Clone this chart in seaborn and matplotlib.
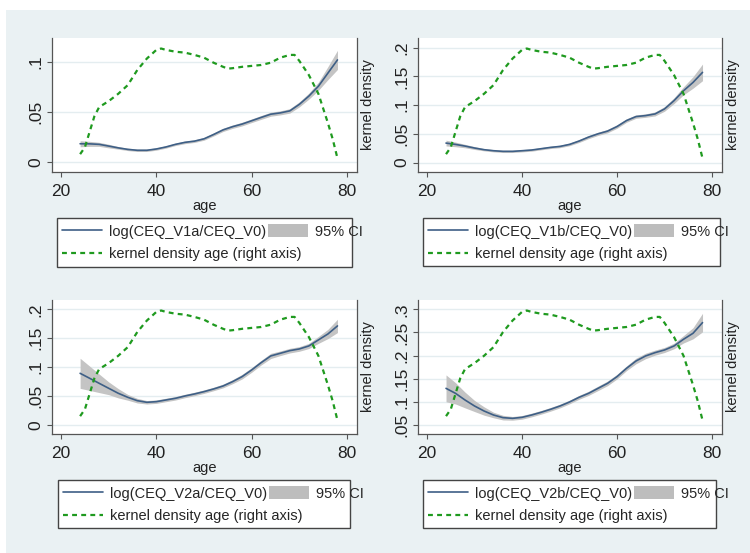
import matplotlib
matplotlib.use("Agg")
import matplotlib.pyplot as plt
import seaborn as sns
from matplotlib.lines import Line2D
from matplotlib.patches import Patch, Rectangle
from matplotlib.ticker import FuncFormatter

sns.set_style("ticks")
plt.rcParams['font.family'] = ['Liberation Sans', 'DejaVu Sans']

# smoothed log ratios by age
age = list(range(24, 80, 2))
v1a = [0.0186, 0.0185, 0.0180, 0.0163, 0.0145, 0.0130, 0.0121, 0.0121, 0.0134, 0.0154,
       0.0180, 0.0200, 0.0212, 0.0235, 0.0278, 0.0324, 0.0356, 0.0382, 0.0415, 0.0448,
       0.0480, 0.0493, 0.0513, 0.0578, 0.0660, 0.0758, 0.0889, 0.1020]
v1b = [0.0340, 0.0317, 0.0288, 0.0254, 0.0225, 0.0207, 0.0196, 0.0196, 0.0207, 0.0219,
       0.0242, 0.0265, 0.0282, 0.0317, 0.0375, 0.0444, 0.0501, 0.0548, 0.0628, 0.0732,
       0.0801, 0.0818, 0.0847, 0.0934, 0.1078, 0.1250, 0.1395, 0.1570]
v2a = [0.0893, 0.0807, 0.0720, 0.0634, 0.0548, 0.0478, 0.0420, 0.0392, 0.0403, 0.0432,
       0.0461, 0.0501, 0.0536, 0.0576, 0.0622, 0.0674, 0.0749, 0.0836, 0.0951, 0.1078,
       0.1193, 0.1239, 0.1285, 0.1314, 0.1366, 0.1470, 0.1573, 0.1712]
v2b = [0.1292, 0.1184, 0.1040, 0.0911, 0.0803, 0.0716, 0.0659, 0.0644, 0.0666, 0.0716,
       0.0774, 0.0839, 0.0911, 0.0997, 0.1098, 0.1184, 0.1292, 0.1400, 0.1545, 0.1725,
       0.1883, 0.1991, 0.2063, 0.2121, 0.2207, 0.2352, 0.2481, 0.2712]

# half width of the 95% CI
ci_v1a = [0.0030, 0.0025, 0.0020, 0.0018, 0.0013, 0.0012, 0.0012, 0.0012, 0.0012, 0.0012,
          0.0012, 0.0013, 0.0013, 0.0014, 0.0015, 0.0016, 0.0017, 0.0018, 0.0018, 0.0019,
          0.0020, 0.0020, 0.0022, 0.0025, 0.0030, 0.0040, 0.0065, 0.0095]
ci_v1b = [0.0050, 0.0040, 0.0030, 0.0025, 0.0020, 0.0020, 0.0020, 0.0020, 0.0020, 0.0020,
          0.0020, 0.0020, 0.0022, 0.0023, 0.0025, 0.0027, 0.0028, 0.0030, 0.0030, 0.0030,
          0.0030, 0.0030, 0.0035, 0.0040, 0.0050, 0.0070, 0.0100, 0.0145]
ci_v2a = [0.0260, 0.0210, 0.0160, 0.0110, 0.0080, 0.0050, 0.0040, 0.0030, 0.0030, 0.0030,
          0.0030, 0.0030, 0.0030, 0.0030, 0.0030, 0.0032, 0.0035, 0.0040, 0.0040, 0.0040,
          0.0045, 0.0040, 0.0040, 0.0040, 0.0045, 0.0060, 0.0080, 0.0115]
ci_v2b = [0.0290, 0.0230, 0.0170, 0.0120, 0.0090, 0.0060, 0.0050, 0.0040, 0.0040, 0.0040,
          0.0040, 0.0040, 0.0040, 0.0040, 0.0042, 0.0045, 0.0048, 0.0050, 0.0050, 0.0050,
          0.0060, 0.0060, 0.0055, 0.0055, 0.0060, 0.0080, 0.0120, 0.0200]

# kernel density of age (same in every panel)
dens_age = [24, 25, 27, 28, 30, 32, 34, 36, 38, 40, 41, 42, 44, 46, 48, 50, 52, 54, 55,
            56, 58, 60, 62, 64, 66, 68, 69, 70, 72, 74, 76, 77, 78]
dens = [0.0018, 0.0033, 0.0101, 0.0121, 0.0134, 0.0150, 0.0169, 0.0202, 0.0227, 0.0246,
        0.0249, 0.0246, 0.0242, 0.0240, 0.0235, 0.0229, 0.0218, 0.0209, 0.0205, 0.0206,
        0.0209, 0.0211, 0.0213, 0.0218, 0.0229, 0.0235, 0.0235, 0.0222, 0.0191, 0.0150,
        0.0086, 0.0051, 0.0009]

labels = ["log(CEQ_V1a/CEQ_V0)", "log(CEQ_V1b/CEQ_V0)",
          "log(CEQ_V2a/CEQ_V0)", "log(CEQ_V2b/CEQ_V0)"]
series = [v1a, v1b, v2a, v2b]
cis = [ci_v1a, ci_v1b, ci_v2a, ci_v2b]
yticks = [[0, 0.05, 0.1], [0, 0.05, 0.1, 0.15, 0.2],
          [0, 0.05, 0.1, 0.15, 0.2], [0.05, 0.1, 0.15, 0.2, 0.25, 0.3]]
ylims = [(-0.0095, 0.1238), (-0.0163, 0.2168), (-0.0156, 0.216), (0.0306, 0.32)]

bg = "#eaf1f3"
grid_c = "#e4edf0"
line_c = "#3e5f86"
band_c = "#c4c4c4"
green = "#1f9a1f"
axis_c = "#555555"

W, H = 750, 553
fig = plt.figure(figsize=(7.5, 5.53), dpi=100)
fig.patch.set_facecolor("white")
fig.add_artist(Rectangle((6 / W, 0), 1, 1 - 10 / H, transform=fig.transFigure,
                         facecolor=bg, edgecolor="none", zorder=-10))

# axes boxes in pixels: left, top, right, bottom ; legend boxes: left, top, right, bottom
ax_px = [(52, 38, 357, 172), (418, 38, 722, 172), (52, 300, 357, 434), (418, 300, 722, 434)]
leg_px = [(57, 218, 352, 267), (423, 218, 720, 266), (58, 480, 350, 528), (423, 480, 716, 528)]


def fmt(v, pos):
    if abs(v) < 1e-12:
        return "0"
    return f"{v:g}".lstrip("0")


for i in range(4):
    l, t, r, b = ax_px[i]
    ax = fig.add_axes([l / W, 1 - b / H, (r - l) / W, (b - t) / H])
    ax.set_facecolor("white")
    ax.set_axisbelow(True)

    lo = [m - c for m, c in zip(series[i], cis[i])]
    hi = [m + c for m, c in zip(series[i], cis[i])]
    ax.fill_between(age, lo, hi, color=band_c, lw=0, zorder=2)
    sns.lineplot(x=age, y=series[i], ax=ax, color=line_c, lw=1.2, zorder=3)

    ax.set_xlim(18.1, 82.1)
    ax.set_ylim(*ylims[i])
    ax.set_xticks([20, 40, 60, 80])
    ax.set_yticks(yticks[i])
    ax.yaxis.set_major_formatter(FuncFormatter(fmt))
    ax.yaxis.grid(True, color=grid_c, lw=1.0)
    ax.xaxis.grid(False)
    ax.tick_params(axis="both", length=3.5, width=0.8, color=axis_c,
                   labelsize=12.5, labelcolor="#222222", pad=5)
    ax.tick_params(axis="y", labelrotation=90, pad=3)
    plt.setp(ax.get_yticklabels(), va="center")
    for s in ["top", "right"]:
        ax.spines[s].set_visible(False)
    for s in ["left", "bottom"]:
        ax.spines[s].set_color(axis_c)
        ax.spines[s].set_linewidth(0.9)
    ax.set_xlabel("age", fontsize=10.5, labelpad=0, color="#222222")
    ax.set_ylabel("")

    ax2 = ax.twinx()
    sns.lineplot(x=dens_age, y=dens, ax=ax2, color=green, lw=1.6,
                 linestyle=(0, (2.2, 1.9)))
    ax2.set_ylim(-0.0021, 0.0272)
    ax2.set_yticks([])
    for s in ["top", "left", "bottom"]:
        ax2.spines[s].set_visible(False)
    ax2.spines["right"].set_color(axis_c)
    ax2.spines["right"].set_linewidth(0.9)
    ax2.set_ylabel("kernel density", fontsize=10.5, labelpad=3, color="#222222")

    # legend
    ll, lt, lr, lb = leg_px[i]
    fig.add_artist(Rectangle((ll / W, 1 - lb / H), (lr - ll) / W, (lb - lt) / H,
                             transform=fig.transFigure, facecolor="white",
                             edgecolor="#444444", lw=1.0, zorder=5))
    h1 = [Line2D([], [], color=line_c, lw=1.2),
          Patch(facecolor="#bdbdbd", edgecolor="none")]
    leg1 = fig.legend(h1, [labels[i], "95% CI"], ncol=2, frameon=False,
                      loc="center left", bbox_to_anchor=((ll + 5) / W, 1 - (lt + 13.5) / H),
                      bbox_transform=fig.transFigure, borderpad=0, borderaxespad=0,
                      fontsize=10.5, handlelength=2.75, handletextpad=0.45,
                      columnspacing=0.15, handleheight=0.9)
    leg1.set_zorder(6)
    h2 = [Line2D([], [], color=green, lw=1.6, linestyle=(0, (2.2, 1.9)))]
    leg2 = fig.legend(h2, ["kernel density age (right axis)"], frameon=False,
                      loc="center left", bbox_to_anchor=((ll + 5) / W, 1 - (lt + 36) / H),
                      bbox_transform=fig.transFigure, borderpad=0, borderaxespad=0,
                      fontsize=10.5, handlelength=2.75, handletextpad=0.45)
    leg2.set_zorder(6)

fig.savefig("out.png", dpi=100)
